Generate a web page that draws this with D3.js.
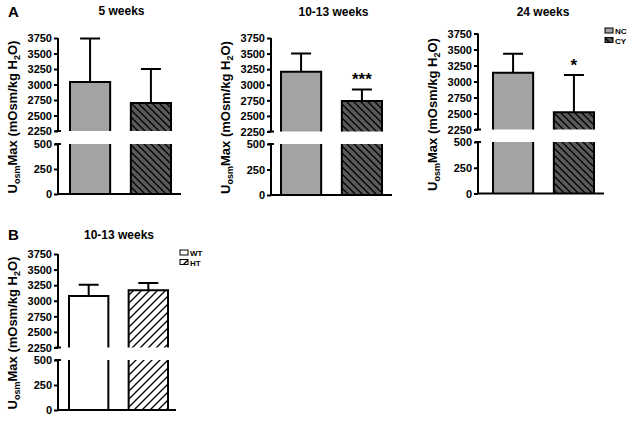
<!DOCTYPE html>
<html><head><meta charset="utf-8">
<script src="https://cdn.jsdelivr.net/npm/d3@7"></script>
<style>body{margin:0;background:#fff}svg{display:block;font-family:"Liberation Sans",Arial,sans-serif}</style>
</head><body>
<svg id="c" width="637" height="421"></svg>
<script>
// ---- data ----
const groupsA = ["NC", "CY"];
const groupsB = ["WT", "HT"];
const panelTitles = ["5 weeks", "10-13 weeks", "24 weeks", "10-13 weeks"];
const means5 = [3040, 2700];
const err5 = [3740, 3250];
const means1013 = [3210, 2740];
const err1013 = [3500, 2925];
const means24 = [3135, 2520];
const err24 = [3435, 3100];
const meansB = [3075, 3170];
const errB = [3255, 3285];
const signif = [["", ""], ["", "***"], ["", "*"], ["", ""]];
const upperTicks = [2250, 2500, 2750, 3000, 3250, 3500, 3750];
const lowerTicks = [0, 250, 500];

const svg = d3.select("#c");
const defs = svg.append("defs");
function hatch(id, bg, dir, period, sw) {
  const p = defs.append("pattern").attr("id", id).attr("patternUnits", "userSpaceOnUse")
    .attr("width", period).attr("height", period);
  p.append("rect").attr("width", period).attr("height", period).attr("fill", bg);
  if (dir > 0) {
    p.append("path").attr("d", `M0,${period} L${period},0 M-2,2 L2,-2 M${period-2},${period+2} L${period+2},${period-2}`)
      .attr("stroke", "#000").attr("stroke-width", sw);
  } else {
    p.append("path").attr("d", `M0,0 L${period},${period} M-2,${period-2} L2,${period+2} M${period-2},-2 L${period+2},2`)
      .attr("stroke", "#000").attr("stroke-width", sw);
  }
}
hatch("hCY", "#5a5a5a", -1, 7, 1.3);
hatch("hHT", "#ffffff", 1, 8, 1.3);

const fills = {NC: "#a3a3a3", CY: "url(#hCY)", WT: "#ffffff", HT: "url(#hHT)"};

const panels = [
  {groups: groupsA, means: means5, errs: err5, title: panelTitles[0], sig: signif[0], ax: 58, bx0: 70, bx1: 171, xe: 181, yT: 38, yB: 131, yL: 144, y0: 194, ty: 15},
  {groups: groupsA, means: means1013, errs: err1013, title: panelTitles[1], sig: signif[1], ax: 271, bx0: 281, bx1: 382, xe: 392, yT: 38, yB: 131.5, yL: 144, y0: 195, ty: 16},
  {groups: groupsA, means: means24, errs: err24, title: panelTitles[2], sig: signif[2], ax: 478, bx0: 493, bx1: 594, xe: 604, yT: 33.5, yB: 129.5, yL: 142, y0: 193.5, ty: 16},
  {groups: groupsB, means: meansB, errs: errB, title: panelTitles[3], sig: signif[3], ax: 58, bx0: 69, bx1: 168, xe: 176, yT: 254, yB: 347.5, yL: 360, y0: 410, ty: 239}
];

panels.forEach((P, pi) => {
  const g = svg.append("g");
  const yU = d3.scaleLinear().domain([2250, 3750]).range([P.yB, P.yT]);
  const yLo = d3.scaleLinear().domain([0, 500]).range([P.y0, P.yL]);
  const x = d3.scaleBand().domain(P.groups).range([P.bx0, P.bx1]).paddingInner(0.34).paddingOuter(0);

  P.groups.forEach((k, i) => {
    const x0 = x(k), w = x.bandwidth();
    const yt = yU(P.means[i]);
    g.append("rect").attr("x", x0).attr("y", yt).attr("width", w).attr("height", P.yB - yt).attr("fill", fills[k]);
    g.append("path").attr("d", `M${x0},${P.yB} V${yt} H${x0 + w} V${P.yB}`).attr("fill", "none").attr("stroke", "#000").attr("stroke-width", 2);
    g.append("rect").attr("x", x0).attr("y", P.yL).attr("width", w).attr("height", P.y0 - P.yL).attr("fill", fills[k]);
    g.append("path").attr("d", `M${x0},${P.y0} V${P.yL} M${x0 + w},${P.yL} V${P.y0}`).attr("fill", "none").attr("stroke", "#000").attr("stroke-width", 2);
    const cx = x0 + w / 2, ye = yU(P.errs[i]);
    g.append("path").attr("d", `M${cx},${yt} V${ye} M${cx - 10},${ye} H${cx + 10}`).attr("stroke", "#000").attr("stroke-width", 2).attr("fill", "none");
    if (P.sig[i]) {
      g.append("text").attr("x", cx).attr("y", ye - 4).attr("text-anchor", "middle")
        .attr("font-size", 17).attr("font-weight", "bold").text(P.sig[i]);
    }
  });

  const axU = d3.axisLeft(yU).tickValues(upperTicks).tickSize(4).tickPadding(2).tickFormat(d3.format("d"));
  const axL = d3.axisLeft(yLo).tickValues(lowerTicks).tickSize(4).tickPadding(2).tickFormat(d3.format("d"));
  [axU, axL].forEach(a => {
    const ag = g.append("g").attr("transform", `translate(${P.ax},0)`).call(a);
    ag.select(".domain").remove();
    ag.selectAll("line").attr("stroke-width", 2);
    ag.selectAll("text").attr("font-size", 11).attr("font-weight", "bold").attr("fill", "#000").attr("dy", "0.34em");
  });
  g.append("path").attr("d", `M${P.ax},${P.yT} V${P.yB} M${P.ax - 3},${P.yB} H${P.ax + 3} M${P.ax - 3},${P.yL} H${P.ax + 3} M${P.ax},${P.yL} V${P.y0} H${P.xe}`)
    .attr("stroke", "#000").attr("stroke-width", 2).attr("fill", "none");

  const lbl = g.append("text").attr("transform", `translate(${P.ax - 41},${(P.yT + P.y0) / 2 + 1}) rotate(-90)`)
    .attr("text-anchor", "middle").attr("font-size", 13).attr("font-weight", "bold");
  lbl.append("tspan").text("U");
  lbl.append("tspan").attr("font-size", 9).attr("dy", 3).text("osm");
  lbl.append("tspan").attr("dy", -3).text("Max (mOsm/kg H");
  lbl.append("tspan").attr("font-size", 9).attr("dy", 3).text("2");
  lbl.append("tspan").attr("dy", -3).text("O)");

  g.append("text").attr("x", (P.ax + P.xe) / 2 + 2).attr("y", P.ty).attr("text-anchor", "middle")
    .attr("font-size", 12).attr("font-weight", "bold").text(P.title);
});

svg.append("text").attr("x", 8).attr("y", 17).attr("font-size", 15).attr("font-weight", "bold").text("A");
svg.append("text").attr("x", 8).attr("y", 240).attr("font-size", 15).attr("font-weight", "bold").text("B");

function legend(x0, y0, keys) {
  keys.forEach((k, i) => {
    const y = y0 + i * 9.5;
    svg.append("rect").attr("x", x0).attr("y", y - 3).attr("width", 8).attr("height", 5)
      .attr("fill", fills[k]).attr("stroke", "#000").attr("stroke-width", 1);
    svg.append("text").attr("x", x0 + 10).attr("y", y + 3).attr("font-size", 8).attr("font-weight", "bold").text(k);
  });
}
legend(605, 31, groupsA);
legend(180, 253, groupsB);
</script>
</body></html>
